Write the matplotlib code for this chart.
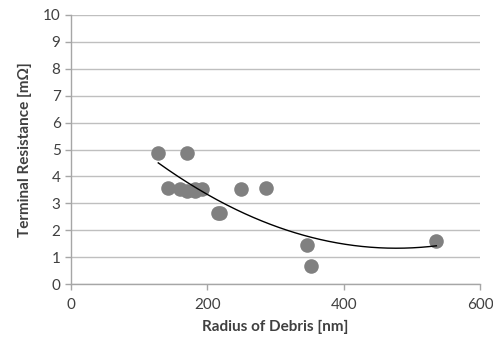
import numpy as np
import matplotlib
matplotlib.use('Agg')
import matplotlib.pyplot as plt

plt.rcParams['font.family'] = ['Lato', 'DejaVu Sans']

# data
radius = [128, 170, 142, 160, 170, 182, 182, 192, 216, 219, 250, 286, 346, 352, 536]
resistance = [4.88, 4.87, 3.58, 3.53, 3.45, 3.55, 3.45, 3.53, 2.65, 2.65, 3.53, 3.58, 1.45, 0.68, 1.60]

fig = plt.figure(figsize=(4.93, 3.47), dpi=100)
ax = fig.add_axes([71/493, 1-284/347, 409/493, 269/347])

grid_col = '#bfbfbf'
ax.set_xlim(0, 600)
ax.set_ylim(0, 10)
ax.set_xticks([0, 200, 400, 600])
ax.set_yticks(range(0, 11))
ax.yaxis.grid(True, color=grid_col, lw=1)
ax.set_axisbelow(True)
for s in ['top', 'right']:
  ax.spines[s].set_visible(False)
for s in ['left', 'bottom']:
  ax.spines[s].set_color('#a6a6a6')
  ax.spines[s].set_linewidth(1)
ax.tick_params(colors='#a6a6a6', labelcolor='#404040', labelsize=11, length=4, width=1)
ax.tick_params(axis='x', pad=6)

ax.scatter(radius, resistance, s=110, color='#808080', zorder=3, linewidths=0)

# second order polynomial trendline
coef = np.polyfit(radius, resistance, 2)
xs = np.linspace(min(radius), max(radius), 200)
ax.plot(xs, np.polyval(coef, xs), color='black', lw=1, zorder=4)

ax.set_xlabel('Radius of Debris [nm]', fontsize=11, fontweight='bold', color='#404040', labelpad=6)
ax.set_ylabel('Terminal Resistance [m\u03a9]', fontsize=11, fontweight='bold', color='#404040', labelpad=8)

fig.savefig('out.png', dpi=100)
